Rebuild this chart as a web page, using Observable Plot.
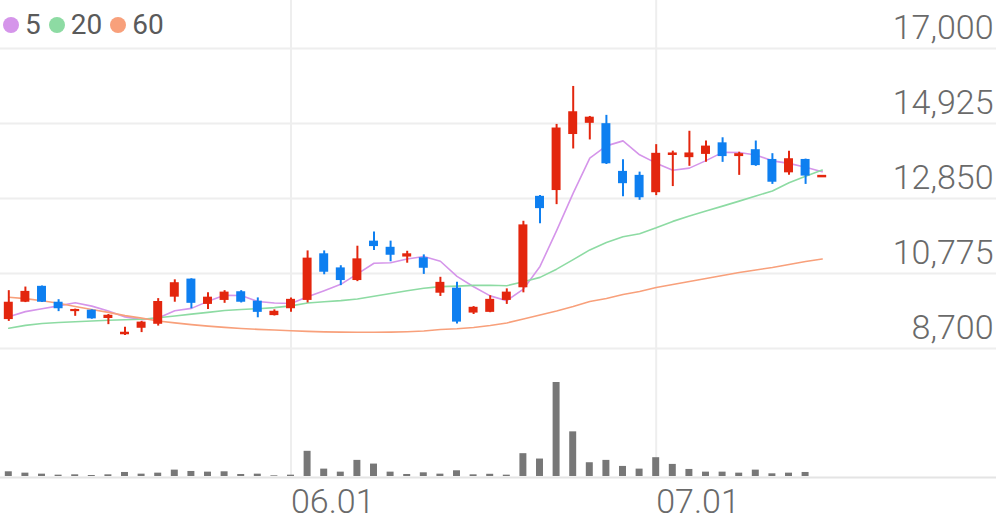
<!DOCTYPE html>
<html>
<head>
<meta charset="utf-8">
<script src="https://cdn.jsdelivr.net/npm/d3@7"></script>
<script src="https://cdn.jsdelivr.net/npm/@observablehq/plot@0.6"></script>
<style>
  html, body { margin: 0; padding: 0; background: #fff; }
  #chart { position: relative; width: 996px; height: 519px; overflow: hidden; font-family: Roboto, "Noto Sans", sans-serif; }
  #chart svg { display: block; }
  #legend { position: absolute; left: 3px; top: 11px; display: flex; align-items: center; font-size: 28px; line-height: 28px; color: #5a5a5a; }
  #legend .item { display: flex; align-items: center; margin-right: 8px; }
  #legend .dot { width: 16px; height: 16px; border-radius: 50%; margin-right: 6px; }
</style>
</head>
<body>
<div id="chart"><div id="legend"></div></div>
<script>
// ---- data ----
const dates = [
  "05.06","05.07","05.10","05.11","05.12","05.13","05.14","05.17","05.18","05.20",
  "05.21","05.24","05.25","05.26","05.27","05.28","05.31","06.01","06.02","06.03",
  "06.04","06.07","06.08","06.09","06.10","06.11","06.14","06.15","06.16","06.17",
  "06.18","06.21","06.22","06.23","06.24","06.25","06.28","06.29","06.30","07.01",
  "07.02","07.05","07.06","07.07","07.08","07.09","07.12","07.13","07.14","07.15"
];
const open  = [9500, 9980, 10420, 9980, 9720, 9760, 9530, 9080, 9260, 9370,
               10120, 10620, 9920, 10030, 10270, 10010, 9610, 9800, 10030, 11320,
               10930, 10580, 11670, 11500, 11230, 11210, 10230, 10370, 9680, 9700,
               10030, 10380, 12910, 13070, 14620, 14930, 14920, 13600, 13490, 13010,
               14040, 13980, 14070, 14390, 14010, 14200, 13930, 13560, 13930, 13470];
const high  = [10300, 10400, 10430, 10050, 9790, 9770, 9640, 9290, 9450, 10080,
               10600, 10630, 10240, 10300, 10300, 10100, 9770, 10100, 11400, 11400,
               10990, 11530, 11920, 11670, 11390, 11290, 10670, 10530, 9860, 10160,
               10350, 12220, 12930, 14900, 15950, 15120, 15150, 13920, 13580, 14340,
               14160, 14710, 14440, 14530, 14130, 14440, 14090, 14160, 13940, 13470];
const low   = [9450, 9970, 9970, 9720, 9590, 9510, 9360, 9060, 9140, 9320,
               9980, 9800, 9780, 9950, 9960, 9550, 9600, 9700, 9960, 10740,
               10440, 10550, 11410, 11100, 11060, 10750, 10140, 9380, 9640, 9690,
               9920, 10240, 12150, 12680, 14220, 14470, 13790, 12900, 12800, 12930,
               13180, 13740, 13850, 13850, 13490, 13740, 13240, 13490, 13240, 13470];
const close = [9980, 10280, 9980, 9800, 9780, 9520, 9620, 9150, 9430, 10000,
               10520, 9950, 10120, 10260, 9980, 9700, 9730, 10060, 11200, 10810,
               10580, 11180, 11520, 11280, 11320, 10920, 10530, 9430, 9840, 10060,
               10260, 12120, 12570, 14800, 15250, 15100, 13810, 13260, 12870, 14100,
               14110, 14110, 14300, 14010, 14090, 13760, 13300, 13950, 13470, 13470];
const volume = [70, 50, 35, 20, 25, 15, 25, 60, 35, 50,
                95, 75, 65, 70, 30, 35, 10, 20, 375, 110,
                65, 240, 185, 65, 30, 55, 35, 85, 25, 33,
                20, 340, 260, 1400, 665, 205, 240, 150, 110, 280,
                180, 105, 65, 65, 50, 95, 40, 50, 60, 0];
const ma5  = [9580, 9720, 9800, 9880, 9964, 9872, 9740, 9574, 9500, 9544,
              9744, 9810, 10004, 10170, 10166, 10002, 9958, 9946, 10134, 10300,
              10476, 10766, 11058, 11074, 11176, 11244, 11114, 10696, 10408, 10156,
              10024, 10342, 10970, 11962, 13000, 13968, 14306, 14444, 14058, 13828,
              13630, 13690, 13898, 14126, 14124, 14054, 13892, 13822, 13714, 13590];
const ma20 = [9260, 9340, 9390, 9420, 9440, 9460, 9480, 9495, 9510, 9550,
              9600, 9650, 9700, 9750, 9780, 9800, 9830, 9880, 9960, 9994,
              10024, 10069, 10146, 10220, 10297, 10367, 10412, 10426, 10447, 10450,
              10437, 10545, 10668, 10895, 11158, 11428, 11632, 11792, 11876, 12040,
              12217, 12363, 12502, 12639, 12777, 12919, 13058, 13284, 13465, 13636];
const ma60 = [10120, 10080, 10020, 9950, 9860, 9780, 9700, 9610, 9540, 9460,
              9410, 9360, 9320, 9285, 9255, 9230, 9210, 9190, 9175, 9160,
              9152, 9148, 9148, 9154, 9165, 9184, 9226, 9248, 9281, 9336,
              9406, 9516, 9627, 9738, 9862, 10000, 10083, 10194, 10277, 10388,
              10471, 10554, 10637, 10720, 10803, 10872, 10941, 11024, 11107, 11176];
const yTicks = [8700, 10775, 12850, 14925, 17000];
const monthTicks = ["06.01", "07.01"];
const maKeys = ["5", "20", "60"];
const maColors = ["#d595ea", "#8ddba3", "#f8a07b"];

// ---- build tables ----
const RED = "#e3260e", BLUE = "#0e7ff0";
const candles = dates.map((date, i) => ({
  date, open: open[i], high: high[i], low: low[i], close: close[i], volume: volume[i],
  color: close[i] >= open[i] ? RED : BLUE
}));
const maValues = [ma5, ma20, ma60];
const maRows = maKeys.flatMap((key, k) => maValues[k].map((v, i) => ({date: dates[i], value: v, key, color: maColors[k]})));

const W = 996, SLOTS = 60;
const xRange = [0, W * dates.length / SLOTS];
const GRID = "#eeeeee";
const fmt = d3.format(",");

const price = Plot.plot({
  width: W, height: 352, margin: 0,
  style: {fontFamily: "Roboto, sans-serif", background: "transparent"},
  x: {type: "band", domain: dates, range: xRange, round: false, paddingInner: 0.46, paddingOuter: 0.23, axis: null},
  y: {domain: [8700, 17000], insetTop: 48, insetBottom: 4, axis: null},
  color: {type: "identity"},
  marks: [
    Plot.ruleY(yTicks, {stroke: GRID, strokeWidth: 2}),
    Plot.ruleX(monthTicks, {stroke: GRID, strokeWidth: 2}),
    Plot.text(yTicks, {y: d => d, text: d => fmt(d), frameAnchor: "right", textAnchor: "end", lineAnchor: "bottom",
      dx: -3, dy: -10, fontSize: 34, fontWeight: 300, fill: "#6a6a6a"}),
    Plot.line(maRows, {x: "date", y: "value", z: "key", stroke: "color", strokeWidth: 1.6}),
    Plot.ruleX(candles, {x: "date", y1: "low", y2: "high", stroke: "color", strokeWidth: 2}),
    Plot.barY(candles, {x: "date", y1: "open", y2: "close", fill: "color"}),
    Plot.tickY(candles.filter(d => d.open === d.close), {x: "date", y: "close", stroke: "color", strokeWidth: 2.5})
  ]
});

const vol = Plot.plot({
  width: W, height: 167, margin: 0, marginBottom: 43,
  style: {fontFamily: "Roboto, sans-serif", background: "transparent"},
  x: {type: "band", domain: dates, range: xRange, round: false, paddingInner: 0.58, paddingOuter: 0.29, axis: null},
  y: {domain: [0, d3.max(volume)], insetTop: 30, axis: null},
  marks: [
    Plot.ruleX(monthTicks, {stroke: GRID, strokeWidth: 2}),
    Plot.barY(candles, {x: "date", y: "volume", fill: "#777"}),
    Plot.ruleY([0], {stroke: "#e4e4e4", strokeWidth: 2, dy: 1}),
    Plot.text(monthTicks, {x: d => d, text: d => d, frameAnchor: "bottom", textAnchor: "start", lineAnchor: "bottom",
      dy: 36, fontSize: 34, fontWeight: 300, fill: "#6a6a6a"})
  ]
});

const chart = document.getElementById("chart");
chart.insertBefore(price, chart.firstChild);
chart.insertBefore(vol, document.getElementById("legend"));

const legend = document.getElementById("legend");
maKeys.forEach((k, i) => {
  const item = document.createElement("span");
  item.className = "item";
  const dot = document.createElement("span");
  dot.className = "dot";
  dot.style.background = maColors[i];
  const label = document.createElement("span");
  label.textContent = k;
  item.append(dot, label);
  legend.append(item);
});
</script>
</body>
</html>
